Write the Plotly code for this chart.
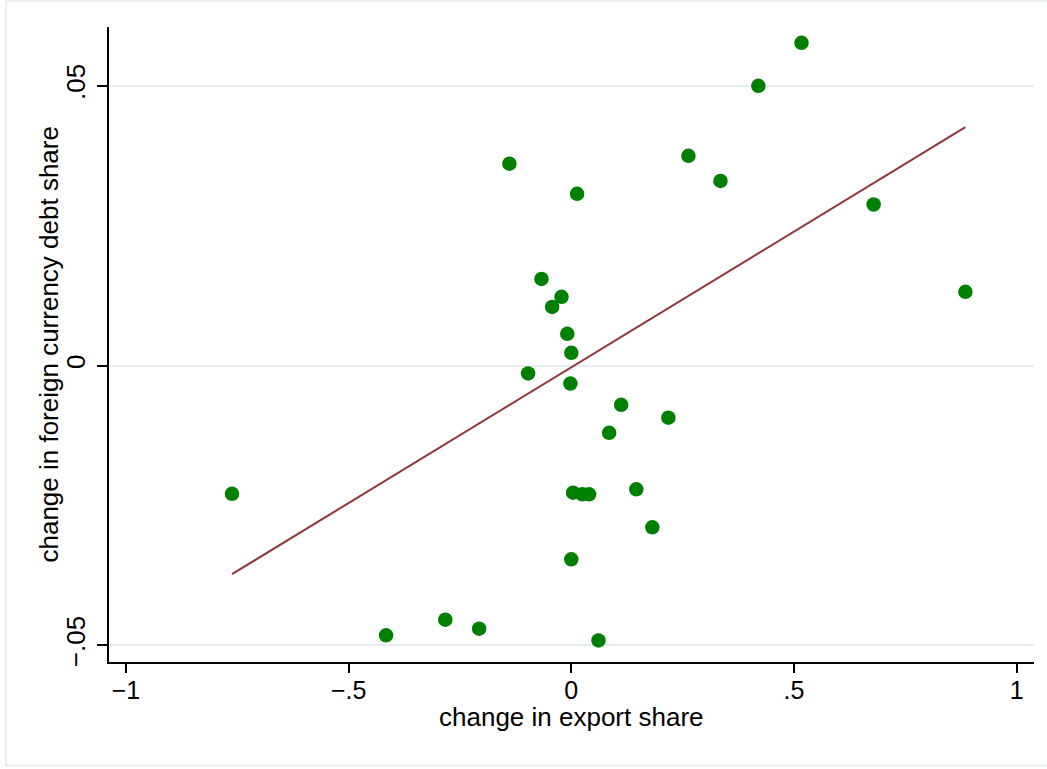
import numpy as np
import plotly.graph_objects as go

# Data
export_share_change = [-0.762, -0.416, -0.283, -0.207, -0.139, -0.097, -0.067, -0.043,
                       -0.022, -0.009, 0.000, -0.002, 0.013, 0.004, 0.025, 0.040,
                       0.000, 0.061, 0.085, 0.112, 0.146, 0.182, 0.218, 0.263,
                       0.335, 0.420, 0.517, 0.679, 0.885]
fx_debt_share_change = [-0.0229, -0.0482, -0.0454, -0.0470, 0.0361, -0.0014, 0.0155, 0.0105,
                        0.0123, 0.0057, 0.0023, -0.0032, 0.0307, -0.0227, -0.0230, -0.0230,
                        -0.0346, -0.0491, -0.0120, -0.0070, -0.0221, -0.0289, -0.0093, 0.0375,
                        0.0330, 0.0500, 0.0577, 0.0288, 0.0132]

# Linear fit shown in the chart
fit_intercept = -0.0003
fit_slope = 0.0485

x_tick_vals = [-1, -0.5, 0, 0.5, 1]
x_tick_text = ["\u22121", "\u2212.5", "0", ".5", "1"]
y_tick_vals = [-0.05, 0, 0.05]
y_tick_text = ["\u2212.05", "0", ".05"]

x_title = "change in export share"
y_title = "change in foreign currency debt share"

x = np.array(export_share_change)
y = np.array(fx_debt_share_change)
fit_x = np.array([x.min(), x.max()])
fit_y = fit_intercept + fit_slope * fit_x

FONT = "Liberation Sans, Arial, Helvetica, sans-serif"
GRID = "#e6edf0"

fig = go.Figure()
fig.add_trace(go.Scatter(x=x, y=y, mode="markers",
                         marker=dict(size=14.5, color="#008000", line=dict(width=0)),
                         showlegend=False))
fig.add_trace(go.Scatter(x=fit_x, y=fit_y, mode="lines",
                         line=dict(color="#90353b", width=2),
                         showlegend=False))

fig.update_layout(
    width=1047, height=769,
    margin=dict(l=109, r=13, t=27, b=107),
    paper_bgcolor="white", plot_bgcolor="white",
    font=dict(family=FONT, size=26, color="black"),
    xaxis=dict(range=[-1.0382, 1.0391], tickmode="array", tickvals=x_tick_vals,
               ticktext=x_tick_text, showgrid=False, zeroline=False,
               showline=True, linecolor="black", linewidth=1.5,
               ticks="outside", ticklen=9, tickwidth=1.5, tickcolor="black",
               tickfont=dict(size=25), ticklabelstandoff=-4),
    yaxis=dict(range=[-0.05296, 0.06052], tickmode="array", tickvals=y_tick_vals,
               ticktext=y_tick_text, showgrid=True, gridcolor=GRID, gridwidth=2,
               zeroline=False, showline=True, linecolor="black", linewidth=1.5,
               ticks="outside", ticklen=10, tickwidth=1.5, tickcolor="black",
               tickangle=-90, tickfont=dict(size=26), ticklabelstandoff=2),
    annotations=[
        dict(text=x_title, xref="paper", yref="paper", x=0.5, y=-0.0873,
             xanchor="center", yanchor="middle", showarrow=False,
             font=dict(size=26)),
        dict(text=y_title, xref="paper", yref="paper", x=-0.0659, y=0.5,
             xanchor="center", yanchor="middle", showarrow=False, textangle=-90,
             font=dict(size=26)),
    ],
    shapes=[dict(type="rect", xref="paper", yref="paper",
                 x0=-0.1114, x1=1.0151, y0=-0.1629, y1=1.0409,
                 line=dict(color=GRID, width=2), layer="below")],
)

fig.write_html("out.html", config={"displayModeBar": False},
               post_script="document.body.style.margin='0';"
                           "document.body.style.overflow='hidden';")
